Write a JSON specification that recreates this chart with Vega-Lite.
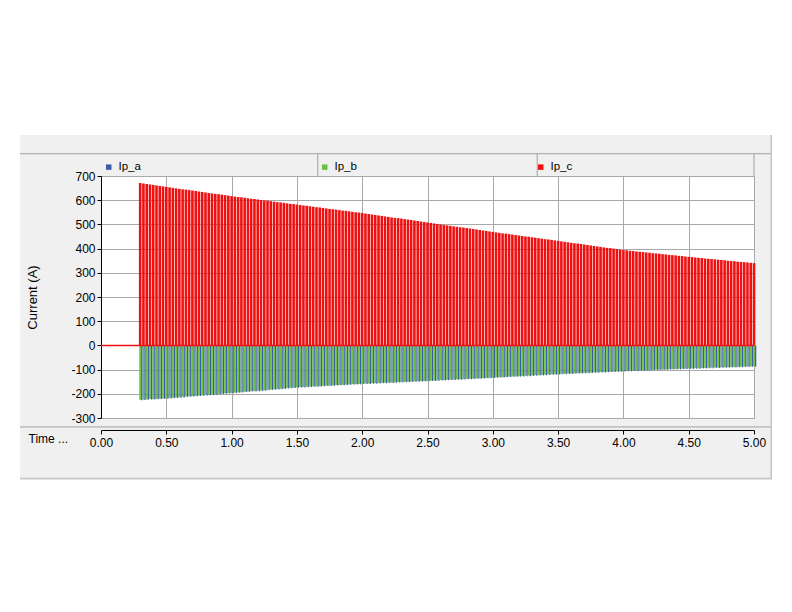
{
"$schema": "https://vega.github.io/schema/vega-lite/v6.json",
"width": 653, "height": 242,
"autosize": {"type": "none"},
"padding": {"left": 101, "top": 176, "right": 38, "bottom": 194},
"background": "#f0f0f0",
"config": {
  "font": "Liberation Sans",
  "view": {"fill": "white", "stroke": "#a0a0a0"},
  "locale": {"number": {"decimal": ".", "thousands": ",", "grouping": [3], "currency": ["$", ""], "minus": "-"}},
  "axis": {"labelFont": "Liberation Sans", "labelColor": "black", "labelFontSize": 12, "titleFont": "Liberation Sans", "titleFontWeight": "normal", "titleColor": "black", "domainColor": "black", "tickColor": "black", "gridColor": "#a8a8a8", "gridOpacity": 1, "labelOverlap": false, "labelFlush": false, "labelBound": false}
},
"datasets": {
"base": [{"t": 0, "v": 0}, {"t": 5, "v": 0}],
"spk": [
{"t":0.3,"c":671,"a":-227,"b":-225},{"t":0.325,"c":669,"a":-226,"b":-224},{"t":0.35,"c":667,"a":-225,"b":-223},{"t":0.375,"c":665,"a":-224,"b":-222},{"t":0.4,"c":663,"a":-224,"b":-222},{"t":0.425,"c":661,"a":-223,"b":-221},{"t":0.45,"c":659,"a":-222,"b":-220},{"t":0.475,"c":657,"a":-221,"b":-219},{"t":0.5,"c":655,"a":-220,"b":-218},{"t":0.525,"c":653,"a":-219,"b":-217},
{"t":0.55,"c":651,"a":-218,"b":-216},{"t":0.575,"c":649,"a":-217,"b":-215},{"t":0.6,"c":647,"a":-216,"b":-214},{"t":0.625,"c":645,"a":-215,"b":-213},{"t":0.65,"c":644,"a":-213,"b":-211},{"t":0.675,"c":642,"a":-212,"b":-210},{"t":0.7,"c":640,"a":-211,"b":-209},{"t":0.725,"c":638,"a":-210,"b":-208},{"t":0.75,"c":636,"a":-209,"b":-207},{"t":0.775,"c":634,"a":-208,"b":-206},
{"t":0.8,"c":632,"a":-207,"b":-205},{"t":0.825,"c":630,"a":-206,"b":-204},{"t":0.85,"c":628,"a":-205,"b":-203},{"t":0.875,"c":626,"a":-204,"b":-202},{"t":0.9,"c":625,"a":-202,"b":-200},{"t":0.925,"c":623,"a":-201,"b":-199},{"t":0.95,"c":621,"a":-200,"b":-198},{"t":0.975,"c":619,"a":-199,"b":-197},{"t":1.0,"c":617,"a":-198,"b":-196},{"t":1.025,"c":615,"a":-197,"b":-195},
{"t":1.05,"c":613,"a":-196,"b":-194},{"t":1.075,"c":612,"a":-195,"b":-193},{"t":1.1,"c":610,"a":-193,"b":-191},{"t":1.125,"c":608,"a":-192,"b":-190},{"t":1.15,"c":606,"a":-191,"b":-189},{"t":1.175,"c":605,"a":-190,"b":-188},{"t":1.2,"c":603,"a":-189,"b":-187},{"t":1.225,"c":601,"a":-188,"b":-186},{"t":1.25,"c":599,"a":-187,"b":-185},{"t":1.275,"c":598,"a":-185,"b":-183},
{"t":1.3,"c":596,"a":-184,"b":-182},{"t":1.325,"c":594,"a":-183,"b":-181},{"t":1.35,"c":592,"a":-182,"b":-180},{"t":1.375,"c":591,"a":-181,"b":-179},{"t":1.4,"c":589,"a":-180,"b":-178},{"t":1.425,"c":587,"a":-178,"b":-176},{"t":1.45,"c":585,"a":-177,"b":-175},{"t":1.475,"c":584,"a":-176,"b":-174},{"t":1.5,"c":582,"a":-175,"b":-173},{"t":1.525,"c":580,"a":-174,"b":-172},
{"t":1.55,"c":578,"a":-174,"b":-172},{"t":1.575,"c":577,"a":-173,"b":-171},{"t":1.6,"c":575,"a":-172,"b":-170},{"t":1.625,"c":573,"a":-171,"b":-169},{"t":1.65,"c":571,"a":-171,"b":-169},{"t":1.675,"c":570,"a":-170,"b":-168},{"t":1.7,"c":568,"a":-169,"b":-167},{"t":1.725,"c":566,"a":-168,"b":-166},{"t":1.75,"c":564,"a":-168,"b":-166},{"t":1.775,"c":563,"a":-167,"b":-165},
{"t":1.8,"c":561,"a":-166,"b":-164},{"t":1.825,"c":559,"a":-165,"b":-163},{"t":1.85,"c":557,"a":-165,"b":-163},{"t":1.875,"c":556,"a":-164,"b":-162},{"t":1.9,"c":554,"a":-163,"b":-161},{"t":1.925,"c":552,"a":-162,"b":-160},{"t":1.95,"c":550,"a":-162,"b":-160},{"t":1.975,"c":549,"a":-161,"b":-159},{"t":2.0,"c":547,"a":-160,"b":-158},{"t":2.025,"c":545,"a":-159,"b":-157},
{"t":2.05,"c":543,"a":-159,"b":-157},{"t":2.075,"c":541,"a":-158,"b":-156},{"t":2.1,"c":539,"a":-158,"b":-156},{"t":2.125,"c":537,"a":-157,"b":-155},{"t":2.15,"c":535,"a":-156,"b":-154},{"t":2.175,"c":533,"a":-156,"b":-154},{"t":2.2,"c":531,"a":-155,"b":-153},{"t":2.225,"c":529,"a":-155,"b":-153},{"t":2.25,"c":527,"a":-154,"b":-152},{"t":2.275,"c":526,"a":-153,"b":-151},
{"t":2.3,"c":524,"a":-153,"b":-151},{"t":2.325,"c":522,"a":-152,"b":-150},{"t":2.35,"c":520,"a":-152,"b":-150},{"t":2.375,"c":518,"a":-151,"b":-149},{"t":2.4,"c":516,"a":-150,"b":-148},{"t":2.425,"c":514,"a":-150,"b":-148},{"t":2.45,"c":512,"a":-149,"b":-147},{"t":2.475,"c":510,"a":-149,"b":-147},{"t":2.5,"c":508,"a":-148,"b":-146},{"t":2.525,"c":506,"a":-147,"b":-145},
{"t":2.55,"c":504,"a":-147,"b":-145},{"t":2.575,"c":502,"a":-146,"b":-144},{"t":2.6,"c":500,"a":-145,"b":-143},{"t":2.625,"c":498,"a":-145,"b":-143},{"t":2.65,"c":496,"a":-144,"b":-142},{"t":2.675,"c":494,"a":-143,"b":-141},{"t":2.7,"c":492,"a":-143,"b":-141},{"t":2.725,"c":490,"a":-142,"b":-140},{"t":2.75,"c":488,"a":-142,"b":-140},{"t":2.775,"c":487,"a":-141,"b":-139},
{"t":2.8,"c":485,"a":-140,"b":-138},{"t":2.825,"c":483,"a":-140,"b":-138},{"t":2.85,"c":481,"a":-139,"b":-137},{"t":2.875,"c":479,"a":-138,"b":-136},{"t":2.9,"c":477,"a":-138,"b":-136},{"t":2.925,"c":475,"a":-137,"b":-135},{"t":2.95,"c":473,"a":-136,"b":-134},{"t":2.975,"c":471,"a":-136,"b":-134},{"t":3.0,"c":469,"a":-135,"b":-133},{"t":3.025,"c":467,"a":-134,"b":-132},
{"t":3.05,"c":465,"a":-133,"b":-131},{"t":3.075,"c":463,"a":-133,"b":-131},{"t":3.1,"c":462,"a":-132,"b":-130},{"t":3.125,"c":460,"a":-131,"b":-129},{"t":3.15,"c":458,"a":-130,"b":-128},{"t":3.175,"c":456,"a":-130,"b":-128},{"t":3.2,"c":454,"a":-129,"b":-127},{"t":3.225,"c":452,"a":-128,"b":-126},{"t":3.25,"c":450,"a":-127,"b":-125},{"t":3.275,"c":449,"a":-127,"b":-125},
{"t":3.3,"c":447,"a":-126,"b":-124},{"t":3.325,"c":445,"a":-125,"b":-123},{"t":3.35,"c":443,"a":-124,"b":-122},{"t":3.375,"c":441,"a":-124,"b":-122},{"t":3.4,"c":439,"a":-123,"b":-121},{"t":3.425,"c":438,"a":-122,"b":-120},{"t":3.45,"c":436,"a":-121,"b":-119},{"t":3.475,"c":434,"a":-121,"b":-119},{"t":3.5,"c":432,"a":-120,"b":-118},{"t":3.525,"c":430,"a":-119,"b":-117},
{"t":3.55,"c":428,"a":-119,"b":-117},{"t":3.575,"c":426,"a":-118,"b":-116},{"t":3.6,"c":424,"a":-118,"b":-116},{"t":3.625,"c":422,"a":-117,"b":-115},{"t":3.65,"c":421,"a":-116,"b":-114},{"t":3.675,"c":419,"a":-116,"b":-114},{"t":3.7,"c":417,"a":-115,"b":-113},{"t":3.725,"c":415,"a":-115,"b":-113},{"t":3.75,"c":413,"a":-114,"b":-112},{"t":3.775,"c":411,"a":-113,"b":-111},
{"t":3.8,"c":409,"a":-113,"b":-111},{"t":3.825,"c":407,"a":-112,"b":-110},{"t":3.85,"c":405,"a":-112,"b":-110},{"t":3.875,"c":403,"a":-111,"b":-109},{"t":3.9,"c":402,"a":-110,"b":-108},{"t":3.925,"c":400,"a":-110,"b":-108},{"t":3.95,"c":398,"a":-109,"b":-107},{"t":3.975,"c":396,"a":-109,"b":-107},{"t":4.0,"c":394,"a":-108,"b":-106},{"t":4.025,"c":393,"a":-107,"b":-105},
{"t":4.05,"c":391,"a":-107,"b":-105},{"t":4.075,"c":390,"a":-106,"b":-104},{"t":4.1,"c":388,"a":-106,"b":-104},{"t":4.125,"c":387,"a":-105,"b":-103},{"t":4.15,"c":386,"a":-105,"b":-103},{"t":4.175,"c":384,"a":-104,"b":-102},{"t":4.2,"c":383,"a":-104,"b":-102},{"t":4.225,"c":381,"a":-103,"b":-101},{"t":4.25,"c":380,"a":-102,"b":-100},{"t":4.275,"c":379,"a":-102,"b":-100},
{"t":4.3,"c":377,"a":-101,"b":-99},{"t":4.325,"c":376,"a":-101,"b":-99},{"t":4.35,"c":374,"a":-100,"b":-98},{"t":4.375,"c":373,"a":-100,"b":-98},{"t":4.4,"c":372,"a":-99,"b":-97},{"t":4.425,"c":370,"a":-99,"b":-97},{"t":4.45,"c":369,"a":-98,"b":-96},{"t":4.475,"c":367,"a":-98,"b":-96},{"t":4.5,"c":366,"a":-97,"b":-95},{"t":4.525,"c":365,"a":-97,"b":-95},
{"t":4.55,"c":363,"a":-96,"b":-94},{"t":4.575,"c":362,"a":-96,"b":-94},{"t":4.6,"c":361,"a":-95,"b":-93},{"t":4.625,"c":359,"a":-95,"b":-93},{"t":4.65,"c":358,"a":-94,"b":-92},{"t":4.675,"c":357,"a":-94,"b":-92},{"t":4.7,"c":356,"a":-93,"b":-91},{"t":4.725,"c":354,"a":-93,"b":-91},{"t":4.75,"c":353,"a":-92,"b":-90},{"t":4.775,"c":352,"a":-92,"b":-90},
{"t":4.8,"c":350,"a":-92,"b":-90},{"t":4.825,"c":349,"a":-91,"b":-89},{"t":4.85,"c":348,"a":-91,"b":-89},{"t":4.875,"c":346,"a":-90,"b":-88},{"t":4.9,"c":345,"a":-90,"b":-88},{"t":4.925,"c":344,"a":-89,"b":-87},{"t":4.95,"c":343,"a":-89,"b":-87},{"t":4.975,"c":341,"a":-88,"b":-86},{"t":5.0,"c":340,"a":-88,"b":-86}
]
},
"layer": [
{"data": {"name": "spk"}, "mark": {"type": "rule", "strokeWidth": 1.8},
 "encoding": {
  "x": {"field": "t", "type": "quantitative", "scale": {"domain": [0, 5], "nice": false, "zero": false},
        "axis": {"values": [0, 0.5, 1, 1.5, 2, 2.5, 3, 3.5, 4, 4.5, 5], "format": ".2f", "offset": 12, "tickSize": 4, "labelPadding": 3, "grid": true, "labelOverlap": false, "labelFlush": false,
                 "title": "Time ...", "titleFontSize": 12, "titleAngle": 0, "titleAlign": "left", "titleBaseline": "middle", "titleX": -73, "titleY": 8}},
  "y": {"field": "b", "type": "quantitative", "scale": {"domain": [-300, 700], "nice": false, "zero": false},
        "axis": {"tickCount": 11, "tickMinStep": 100, "format": "d", "tickSize": 4, "labelPadding": 2, "grid": true, "labelOverlap": false, "labelFlush": false,
                 "title": "Current (A)", "titleFontSize": 13, "titleAngle": -90, "titleAlign": "center", "titleBaseline": "middle", "titleX": -69, "titleY": 121}},
  "y2": {"datum": 0},
  "color": {"datum": "Ip_b",
            "scale": {"domain": ["Ip_a", "Ip_b", "Ip_c"], "range": ["#3a5fa8", "#6cbf45", "#ee1111"]},
            "legend": {"title": null, "orient": "none", "legendX": 2, "legendY": -15, "direction": "horizontal", "symbolType": "square", "symbolSize": 30,
                       "labelFont": "Liberation Sans", "labelFontSize": 11.5, "labelColor": "black", "labelOffset": 4, "columnPadding": 178, "padding": 0,
                       "encode": {"symbols": {"update": {"fill": {"scale": "color", "field": "value"}, "stroke": {"value": "transparent"}, "strokeWidth": {"value": 0}}}}}}
 }},
{"data": {"values": [{}]}, "mark": {"type": "rect", "fill": "white"},
 "encoding": {"x": {"datum": -0.8}, "x2": {"datum": 5.4}, "y": {"datum": 869}, "y2": {"datum": 1500}}},
{"data": {"values": [{}]}, "mark": {"type": "rect", "fill": "white"},
 "encoding": {"x": {"datum": -0.8}, "x2": {"datum": 5.4}, "y": {"datum": -556}, "y2": {"datum": -1200}}},
{"data": {"values": [{}]}, "mark": {"type": "rect", "fill": "white"},
 "encoding": {"x": {"datum": -0.8}, "x2": {"datum": -0.62}, "y": {"datum": -556}, "y2": {"datum": 869}}},
{"data": {"values": [{}]}, "mark": {"type": "rect", "fill": "white"},
 "encoding": {"x": {"datum": 5.138}, "x2": {"datum": 5.4}, "y": {"datum": -556}, "y2": {"datum": 869}}},
{"data": {"values": [{}]}, "mark": {"type": "rule", "color": "#a0a0a0"},
 "encoding": {"x": {"datum": -0.62}, "x2": {"datum": 5.138}, "y": {"datum": 792}}},
{"data": {"values": [{}]}, "mark": {"type": "rule", "color": "#a0a0a0"},
 "encoding": {"x": {"datum": -0.62}, "x2": {"datum": 5.138}, "y": {"datum": -337}}},
{"data": {"values": [{}]}, "mark": {"type": "rule", "color": "#c4c4c4", "strokeWidth": 1.5},
 "encoding": {"x": {"datum": -0.62}, "x2": {"datum": 5.138}, "y": {"datum": -550}}},
{"data": {"values": [{}]}, "mark": {"type": "rule", "color": "#c4c4c4", "strokeWidth": 1.5},
 "encoding": {"x": {"datum": 5.132}, "y": {"datum": -550}, "y2": {"datum": 869}}},
{"data": {"values": [{}]}, "mark": {"type": "rule", "color": "#a0a0a0"},
 "encoding": {"x": {"datum": 1.66}, "y": {"datum": 700}, "y2": {"datum": 792}}},
{"data": {"values": [{}]}, "mark": {"type": "rule", "color": "#a0a0a0"},
 "encoding": {"x": {"datum": 3.34}, "y": {"datum": 700}, "y2": {"datum": 792}}},
{"data": {"values": [{}]}, "mark": {"type": "rule", "color": "#a0a0a0"},
 "encoding": {"x": {"datum": 5.0}, "y": {"datum": 700}, "y2": {"datum": 792}}},
{"data": {"name": "spk"}, "mark": {"type": "rule", "strokeWidth": 1.3, "xOffset": 1.6},
 "encoding": {"x": {"field": "t", "type": "quantitative"}, "y": {"field": "a", "type": "quantitative"}, "y2": {"datum": 0}, "color": {"datum": "Ip_a"}}},
{"data": {"name": "spk"}, "mark": {"type": "rule", "strokeWidth": 2.6},
 "encoding": {"x": {"field": "t", "type": "quantitative"}, "y": {"field": "c", "type": "quantitative"}, "y2": {"datum": 0}, "color": {"datum": "Ip_c"}}},
{"data": {"name": "base"}, "mark": {"type": "line", "strokeWidth": 1.5},
 "encoding": {"x": {"field": "t", "type": "quantitative"}, "y": {"field": "v", "type": "quantitative"}, "color": {"datum": "Ip_c"}}}
]
}
